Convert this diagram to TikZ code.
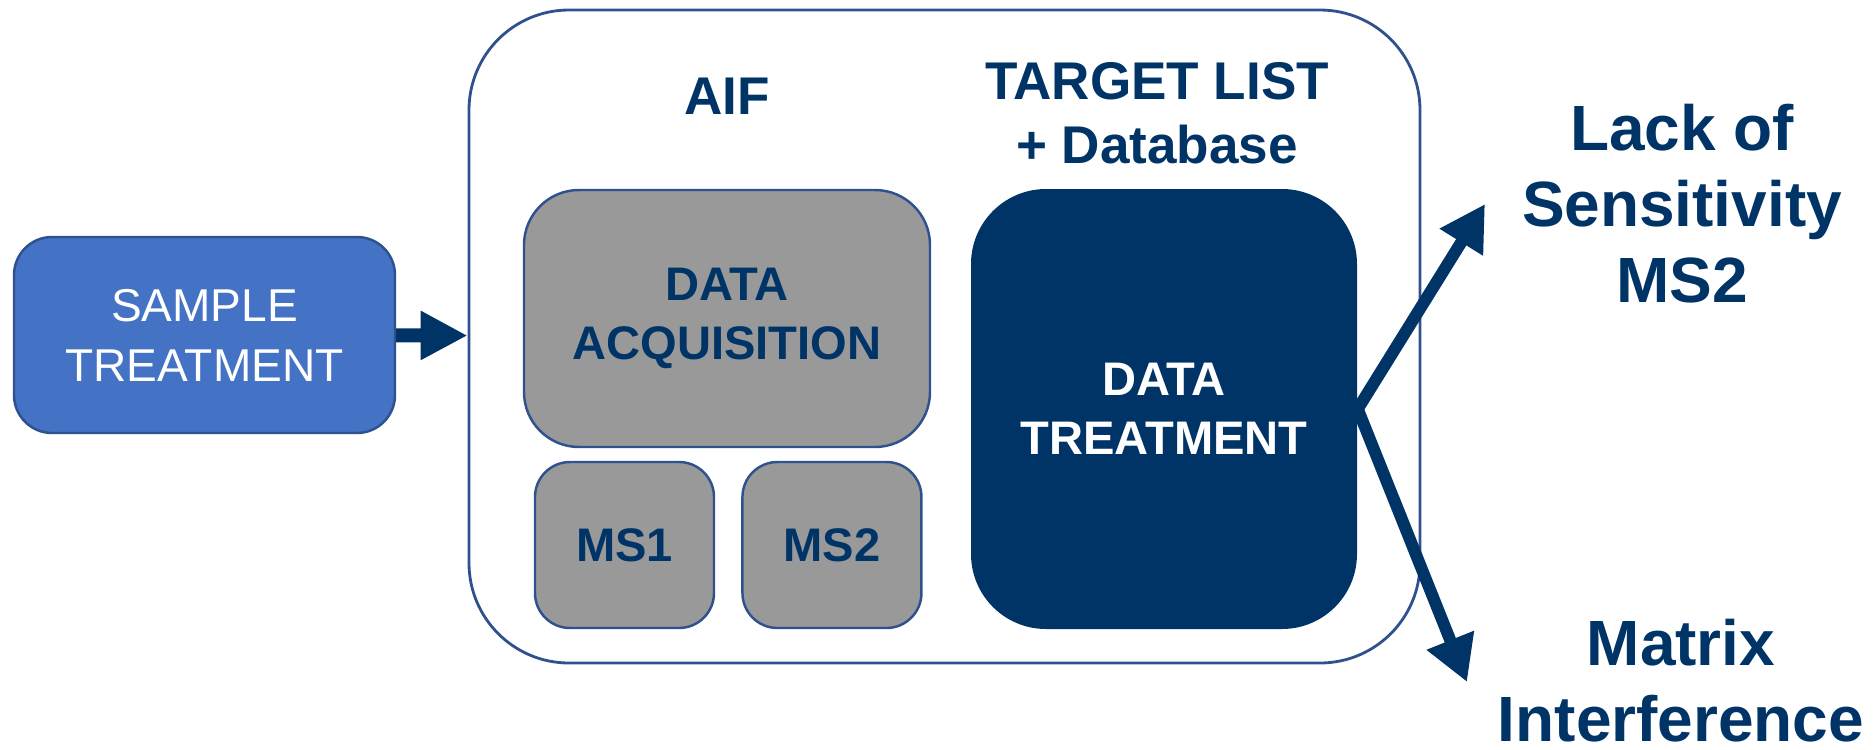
\documentclass[tikz,border=0pt]{standalone}
\usepackage{fontspec}
\setmainfont{Liberation Sans}
\usepackage{xcolor}
\usepackage{tikz}
\usetikzlibrary{positioning, arrows.meta}

\definecolor{navy}{RGB}{0,51,102}
\definecolor{sampleblue}{RGB}{68,114,196}
\definecolor{edgeblue}{RGB}{47,82,143}
\definecolor{stepgray}{RGB}{153,153,153}

\begin{document}
\begin{tikzpicture}[
    node distance=0.26cm and 0.26cm,
    process/.style={rectangle, draw=edgeblue, line width=0.7pt, fill=sampleblue, text=white, rounded corners=0.38cm, minimum width=3.81cm, minimum height=1.96cm, align=center, font=\fontsize{13.1}{17.1}\selectfont},
    frame/.style={rectangle, draw=edgeblue, line width=0.8pt, rounded corners=1cm, minimum width=9.51cm, minimum height=6.53cm},
    stepbox/.style={rectangle, draw=edgeblue, line width=0.7pt, fill=stepgray, text=navy, align=center, font=\bfseries\fontsize{13.4}{16.8}\selectfont},
    treatbox/.style={rectangle, fill=navy, text=white, rounded corners=0.75cm, minimum width=3.86cm, minimum height=4.4cm, align=center, font=\bfseries\fontsize{13.4}{16.8}\selectfont},
    title/.style={inner sep=0pt, text=navy, align=center, font=\bfseries\fontsize{15.1}{18.2}\selectfont},
    issue/.style={inner sep=0pt, text=navy, align=center, font=\bfseries\fontsize{18.2}{21.6}\selectfont},
    flow/.style={-{Triangle[length=0.47cm, width=0.46cm]}, draw=navy, line width=0.14cm},
    branch/.style={-{Triangle[length=0.45cm, width=0.48cm]}, draw=navy, line width=0.12cm}
]
\useasboundingbox (0,0) rectangle (18.75,-7.5);

\node[process] (sample) at (2.045,-3.35) {SAMPLE\\TREATMENT};
\node[frame] (aifbox) at (9.445,-3.365) {};

\node[title] (aif) at (7.27,-0.96) {AIF};
\node[title] (target) at (11.57,-1.135) {TARGET LIST\\+ Database};

\node[stepbox, minimum width=4.06cm, minimum height=2.57cm, rounded corners=0.55cm] (acq) at (7.27,-3.185) {DATA\\ACQUISITION};
\node[stepbox, minimum width=1.79cm, minimum height=1.66cm, rounded corners=0.35cm] (ms1) at (6.245,-5.45) {MS1};
\node[stepbox, minimum width=1.79cm, minimum height=1.66cm, rounded corners=0.35cm, right=of ms1] (ms2) {MS2};
\node[treatbox] (treat) at (11.64,-4.09) {DATA\\TREATMENT};

\node[issue] (lack) at (16.82,-2.04) {Lack of\\Sensitivity\\MS2};
\node[issue] (matrix) at (16.81,-6.81) {Matrix\\Interference};

\coordinate (lacktip) at (14.85,-2.04);
\coordinate (matrixtip) at (14.67,-6.82);

\draw[flow] (sample) -- (aifbox);
\draw[branch] (treat.east) -- (lacktip);
\draw[branch] (treat.east) -- (matrixtip);

\end{tikzpicture}
\end{document}
